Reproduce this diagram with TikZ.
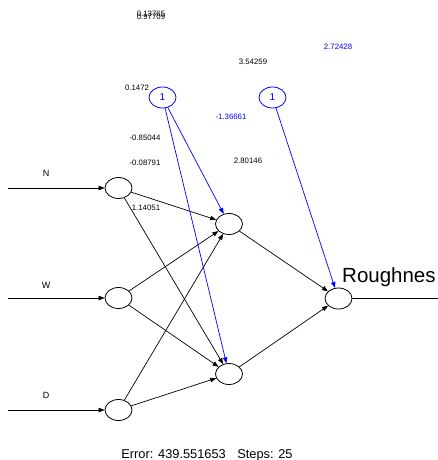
\documentclass[tikz,border=0pt]{standalone}
\usepackage{fontspec}
\setmainfont{Liberation Sans}
\usetikzlibrary{shapes.geometric,arrows.meta}
\begin{document}
\begin{tikzpicture}[x=1pt,y=-1pt,
  neuron/.style={ellipse,draw,line width=0.8pt,minimum width=27pt,minimum height=21pt,inner sep=0pt},
  bias/.style={neuron,draw=blue,text=blue,font=\fontsize{10}{11}\selectfont},
  conn/.style={line width=0.7pt,-{Triangle[length=6pt,width=4.5pt]}},
  bconn/.style={conn,draw=blue},
  wlab/.style={font=\fontsize{7.8}{8}\selectfont,inner sep=0pt},
  blab/.style={wlab,text=blue},
  inlab/.style={font=\fontsize{9}{10}\selectfont,inner sep=0pt}]
\useasboundingbox (0,0) rectangle (438,460);
% neurons
\node[neuron] (n) at (118.5,188) {};
\node[neuron] (w) at (118.5,298) {};
\node[neuron] (d) at (118.5,410) {};
\node[neuron] (h1) at (229,224) {};
\node[neuron] (h2) at (229,374) {};
\node[neuron] (o) at (338.5,298.5) {};
\node[bias] (b1) at (162.5,97.5) {1};
\node[bias] (b2) at (272.5,97.5) {1};
% inputs
\coordinate (in1) at (8,188);
\coordinate (in2) at (8,298);
\coordinate (in3) at (8,410);
\coordinate (out) at (438,298.5);
\draw[conn] (in1) -- (n);
\draw[conn] (in2) -- (w);
\draw[conn] (in3) -- (d);
\draw[line width=0.7pt] (o) -- (out);
\node[inlab] (ln) at (46,173) {N};
\node[inlab] (lw) at (46,285) {W};
\node[inlab] (ld) at (46,395) {D};
\node[inner sep=0pt,anchor=base west,font=\fontsize{20.5}{22}\selectfont] (lr) at (342,282) {Roughnes};
% connections
\draw[conn] (n) -- (h1);
\draw[conn] (n) -- (h2);
\draw[conn] (w) -- (h1);
\draw[conn] (w) -- (h2);
\draw[conn] (d) -- (h1);
\draw[conn] (d) -- (h2);
\draw[conn] (h1) -- (o);
\draw[conn] (h2) -- (o);
\draw[bconn] (b1) -- (h1);
\draw[bconn] (b1) -- (h2);
\draw[bconn] (b2) -- (o);
% weights
\node[wlab] (l1) at (151,14) {0.13765};
\node[wlab] (l2) at (151,17) {0.97709};
\node[wlab] (l3) at (253,62) {3.54259};
\node[blab] (l4) at (338,47) {2.72428};
\node[wlab] (l5) at (137,88) {0.1472};
\node[blab] (l6) at (231,117) {-1.36661};
\node[wlab] (l7) at (145,138) {-0.85044};
\node[wlab] (l8) at (145,163) {-0.08791};
\node[wlab] (l9) at (248,161) {2.80146};
\node[wlab] (l10) at (146,208) {1.14051};
\node[inner sep=0pt,anchor=base,font=\fontsize{12.8}{14}\selectfont] (err) at (207,458) {Error: 439.551653\hspace{0.9em}Steps: 25};
\end{tikzpicture}
\end{document}
